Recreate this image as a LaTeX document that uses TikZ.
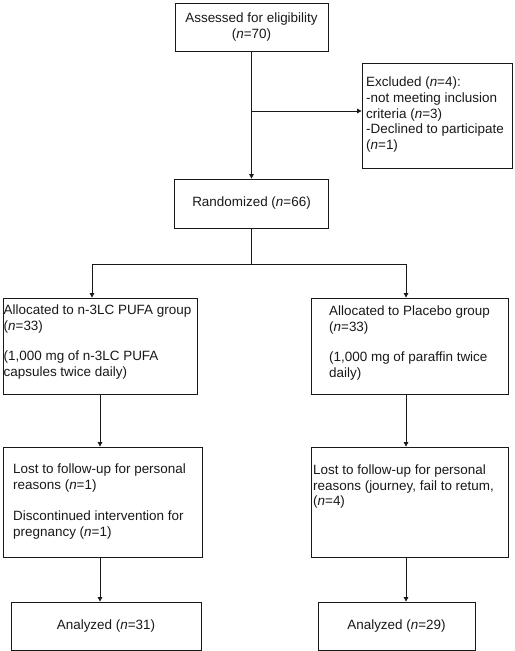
\documentclass[tikz,border=0pt]{standalone}
\usepackage{fontspec}
\setmainfont{Liberation Sans}
\usetikzlibrary{arrows.meta}
\begin{document}
\begin{tikzpicture}[x=1bp,y=-1bp,
  every node/.style={font=\fontsize{13.5}{16}\selectfont, text=black!90},
  box/.style={draw=black!90, line width=0.8bp, inner sep=0pt},
  txt/.style={anchor=north west, inner sep=0pt, align=left},
  conn/.style={draw=black!90, line width=0.8bp},
  arr/.style={conn, -{Triangle[length=4.5bp,width=4.5bp]}}]
\useasboundingbox (0,0) rectangle (515,651);
\fill[white] (0,0) rectangle (515,651);

% boxes
\node[box, minimum width=153bp, minimum height=48bp, align=center] (assess) at (251.5,27) {Assessed for eligibility\\(\textit{n}=70)};
\node[box, minimum width=150bp, minimum height=105bp] (excl) at (437,115.5) {};
\node[txt, font=\fontsize{13.5}{15.7}\selectfont] (excltxt) at (366,77) {Excluded (\textit{n}=4):\\-not meeting inclusion\\criteria (\textit{n}=3)\\-Declined to participate\\(\textit{n}=1)};
\node[box, minimum width=154bp, minimum height=49bp] (rand) at (251.5,203.5) {Randomized (\textit{n}=66)};

\node[box, minimum width=194bp, minimum height=96bp] (allocL) at (100,346) {};
\node[txt] (allocLtxt) at (3.5,304.5) {Allocated to n-3LC PUFA group\\(\textit{n}=33)\\[14bp](1,000 mg of n-3LC PUFA\\capsules twice daily)};
\node[box, minimum width=197bp, minimum height=96bp] (allocR) at (409.5,346) {};
\node[txt] (allocRtxt) at (329,305.5) {Allocated to Placebo group\\(\textit{n}=33)\\[14bp](1,000 mg of paraffin twice\\daily)};

\node[box, minimum width=199bp, minimum height=110bp] (lostL) at (102.5,502) {};
\node[txt] (lostLtxt) at (13,463.5) {Lost to follow-up for personal\\reasons (\textit{n}=1)\\[15bp]Discontinued intervention for\\pregnancy (\textit{n}=1)};
\node[box, minimum width=197bp, minimum height=110bp] (lostR) at (409.5,502) {};
\node[txt, font=\fontsize{13.5}{15.7}\selectfont] (lostRtxt) at (313,464.5) {Lost to follow-up for personal\\reasons (journey, fail to retum,\\(\textit{n}=4)};

\node[box, minimum width=190bp, minimum height=48bp] (anaL) at (106,626) {Analyzed (\textit{n}=31)};
\node[box, minimum width=157bp, minimum height=48bp] (anaR) at (396.5,626) {Analyzed (\textit{n}=29)};

% junctions
\coordinate (bj) at (251.5,111);
\coordinate (split) at (251.5,264);
\coordinate (lx) at (92,264);
\coordinate (rx) at (406,264);
\coordinate (lcol) at (100,0);
\coordinate (rcol) at (406,0);

% connectors
\draw[arr] (assess.south) -- (rand.north);
\draw[arr] (bj) -- (bj -| excl.west);
\draw[conn] (rand.south) -- (split);
\draw[arr] (split) -- (lx) -- (lx |- allocL.north);
\draw[arr] (split) -- (rx) -- (rx |- allocR.north);
\draw[arr] (lcol |- allocL.south) -- (lcol |- lostL.north);
\draw[arr] (rcol |- allocR.south) -- (rcol |- lostR.north);
\draw[arr] (lcol |- lostL.south) -- (lcol |- anaL.north);
\draw[arr] (rcol |- lostR.south) -- (rcol |- anaR.north);
\end{tikzpicture}
\end{document}
